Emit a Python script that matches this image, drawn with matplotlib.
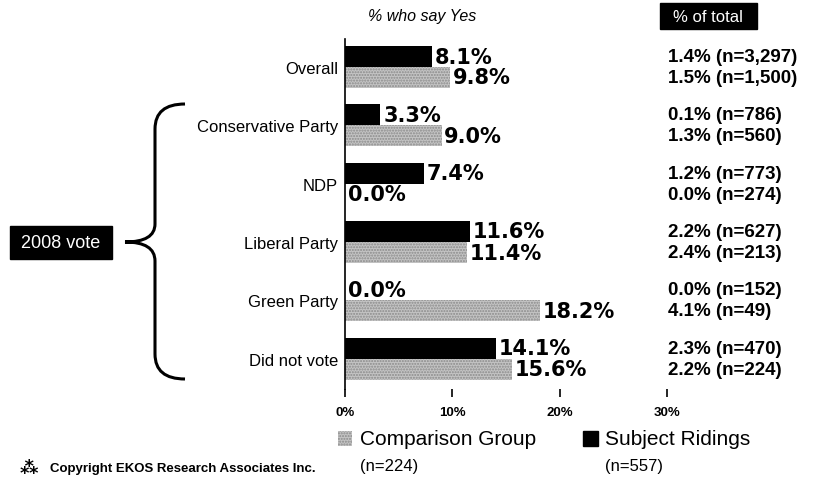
import numpy as np
import matplotlib.pyplot as plt
from matplotlib.path import Path
from matplotlib.patches import PathPatch, Rectangle

plt.rcParams['font.family'] = ['Liberation Sans', 'DejaVu Sans']

categories = ["Overall", "Conservative Party", "NDP", "Liberal Party", "Green Party", "Did not vote"]
subject = [8.1, 3.3, 7.4, 11.6, 0.0, 14.1]
comparison = [9.8, 9.0, 0.0, 11.4, 18.2, 15.6]
subject_total = ["1.4% (n=3,297)", "0.1% (n=786)", "1.2% (n=773)", "2.2% (n=627)", "0.0% (n=152)", "2.3% (n=470)"]
comparison_total = ["1.5% (n=1,500)", "1.3% (n=560)", "0.0% (n=274)", "2.4% (n=213)", "4.1% (n=49)", "2.2% (n=224)"]
xticks = [0, 10, 20, 30]

W, H = 818, 485
fig = plt.figure(figsize=(W / 100, H / 100), dpi=100)
ax = fig.add_axes([345 / W, 95 / H, 322 / W, 350 / H])

y = np.arange(len(categories))
bh = 0.36
ax.barh(y - bh / 2, subject, height=bh, color="black", lw=0)
ax.barh(y + bh / 2, comparison, height=bh, color="#c4c4c4", hatch="......",
        edgecolor="#8a8a8a", lw=0)

for i in range(len(categories)):
    ax.text(subject[i] + 0.25, y[i] - bh / 2, f"{subject[i]:.1f}%", va="center",
            ha="left", fontsize=15, fontweight="bold", family="DejaVu Sans")
    ax.text(comparison[i] + 0.25, y[i] + bh / 2, f"{comparison[i]:.1f}%", va="center",
            ha="left", fontsize=15, fontweight="bold", family="DejaVu Sans")
    ax.text(30.1, y[i] - bh / 2, subject_total[i], va="center", ha="left",
            fontsize=13.5, fontweight="bold")
    ax.text(30.1, y[i] + bh / 2, comparison_total[i], va="center", ha="left",
            fontsize=13.5, fontweight="bold")

ax.set_xlim(0, 30)
ax.set_ylim(5.52, -0.48)
ax.set_xticks(xticks)
ax.set_xticklabels([f"{t}%" for t in xticks], fontsize=9.5, fontweight="bold")
ax.set_yticks(y)
ax.set_yticklabels(categories, fontsize=12)
ax.tick_params(axis="y", length=0, pad=5)
ax.tick_params(axis="x", bottom=True, length=6, width=1.2, color="black", pad=6,
               direction="out")
for s in ["top", "right", "bottom"]:
    ax.spines[s].set_visible(False)
ax.spines["left"].set_linewidth(1.2)

# overlay for annotations in pixel coords
ov = fig.add_axes([0, 0, 1, 1], zorder=-1)
ov.set_xlim(0, W)
ov.set_ylim(H, 0)
ov.axis("off")

ov.text(368, 16, "% who say Yes", fontsize=11.5, style="italic", va="center", ha="left")
ov.add_patch(Rectangle((660, 4), 97, 26, color="black"))
ov.text(708, 17, "% of total", color="white", fontsize=12, va="center", ha="center")

# brace
verts = [(185, 105), (155, 105), (155, 130), (155, 225), (155, 243), (125, 243),
         (155, 243), (155, 262), (155, 355), (155, 380), (185, 380)]
codes = [Path.MOVETO, Path.CURVE3, Path.CURVE3, Path.LINETO, Path.CURVE3, Path.CURVE3,
         Path.CURVE3, Path.CURVE3, Path.LINETO, Path.CURVE3, Path.CURVE3]
ov.add_patch(PathPatch(Path(verts, codes), fill=False, lw=2.2, color="black"))
ov.add_patch(Rectangle((10, 227), 102, 33, color="black"))
ov.text(61, 244, "2008 vote", color="white", fontsize=13, va="center", ha="center")

# legend
ov.add_patch(Rectangle((338, 432), 14, 15, facecolor="#c4c4c4", hatch="......",
                       edgecolor="#8a8a8a", lw=0))
ov.text(360, 440, "Comparison Group", fontsize=15, va="center", ha="left")
ov.text(360, 467, "(n=224)", fontsize=12, va="center", ha="left")
ov.add_patch(Rectangle((583, 432), 15, 15, color="black"))
ov.text(605, 440, "Subject Ridings", fontsize=15, va="center", ha="left")
ov.text(605, 467, "(n=557)", fontsize=12, va="center", ha="left")

ov.text(20, 469, "\u2042", fontsize=13, va="center", ha="left", fontweight="bold")
ov.text(50, 469, "Copyright EKOS Research Associates Inc.", fontsize=9.5,
        fontweight="bold", va="center", ha="left")

fig.savefig("out.png", dpi=100)
